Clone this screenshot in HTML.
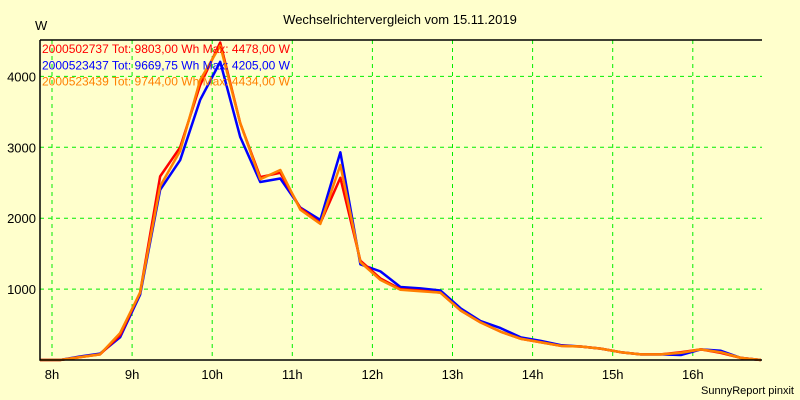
<!DOCTYPE html>
<html><head><meta charset="utf-8"><style>
body{margin:0;background:#ffffcc;}
svg{display:block;font-family:"Liberation Sans",sans-serif;}
</style></head><body>
<svg id="c" width="800" height="400">
<rect width="800" height="400" fill="#ffffcc"/>
<text x="400" y="24" text-anchor="middle" font-size="13">Wechselrichtervergleich vom 15.11.2019</text>
<text x="35" y="30" font-size="13">W</text>
<text x="794" y="394" text-anchor="end" font-size="11">SunnyReport pinxit</text>
<g id="grid"></g><g id="series"></g><g id="axes"></g><g id="legend"></g>
</svg>
<script>
const hourTicks=[8,9,10,11,12,13,14,15,16];
const yTicks=[1000,2000,3000,4000];
const t0=7.85, step=0.25;
const red=[0,0,40,80,350,950,2590,3000,3880,4478,3340,2580,2640,2140,1930,2570,1400,1150,1000,980,950,700,530,400,300,250,200,190,160,110,80,80,110,150,100,30,0];
const blue=[0,0,50,90,320,920,2400,2820,3670,4205,3145,2510,2560,2150,1975,2930,1350,1250,1030,1010,980,730,550,450,320,270,210,190,160,110,80,80,70,150,130,30,0];
const orange=[0,0,40,80,380,950,2450,2950,3950,4434,3340,2550,2680,2120,1920,2750,1380,1130,990,970,950,700,530,400,300,250,200,190,160,110,80,80,100,150,110,30,0];
const seriesNames=["2000502737 Tot: 9803,00 Wh Max: 4478,00 W","2000523437 Tot: 9669,75 Wh Max: 4205,00 W","2000523439 Tot: 9744,00 Wh Max: 4434,00 W"];
const X0=40,X1=762,Y0=360,Y1=40;
const xS=h=>52+(h-8)*80.1;
const yS=v=>360-v*0.0709;
const NS="http://www.w3.org/2000/svg";
function mk(tag,attrs,parent){const e=document.createElementNS(NS,tag);for(const k in attrs)e.setAttribute(k,attrs[k]);parent.appendChild(e);return e;}
const grid=document.getElementById('grid'),axes=document.getElementById('axes'),ser=document.getElementById('series'),leg=document.getElementById('legend');
hourTicks.forEach(h=>{
 const l=mk('line',{x1:xS(h),x2:xS(h),y1:Y1,y2:Y0,stroke:'#00ee00','stroke-dasharray':'4,4'},grid);
 
 
 const t=mk('text',{x:xS(h),y:379,'text-anchor':'middle','font-size':13},axes);
 t.textContent=h+'h';
 
 
});
yTicks.forEach(v=>{
 const l=mk('line',{x1:X0,x2:X1,y1:yS(v),y2:yS(v),stroke:'#00ee00','stroke-dasharray':'4,4'},grid);
 
 
 const t=mk('text',{x:36,y:yS(v)+5,'text-anchor':'end','font-size':13},axes);
 t.textContent=v;
 
 
});
const ax=mk('path',{d:`M${X0},${Y1}H${X1}M${X0},${Y1}V${Y0}H${X1}`,stroke:'#000',fill:'none','stroke-width':1.5},axes);


const all=[[blue,'#0000ff'],[red,'#ff0000'],[orange,'#ff8000']];
all.forEach(([d,c])=>{
 const p=mk('polyline',{points:d.map((v,i)=>xS(t0+i*step)+','+yS(v)).join(' '),fill:'none',stroke:c,'stroke-width':2.5,'stroke-linejoin':'round'},ser);
 
 
});
const lc=['#ff0000','#0000ff','#ff8000'];
seriesNames.forEach((n,i)=>{
 const t=mk('text',{x:42,y:53+i*16.3,fill:lc[i],'font-size':12},leg);
 t.textContent=n;
 
 
});
</script>
</body></html>
